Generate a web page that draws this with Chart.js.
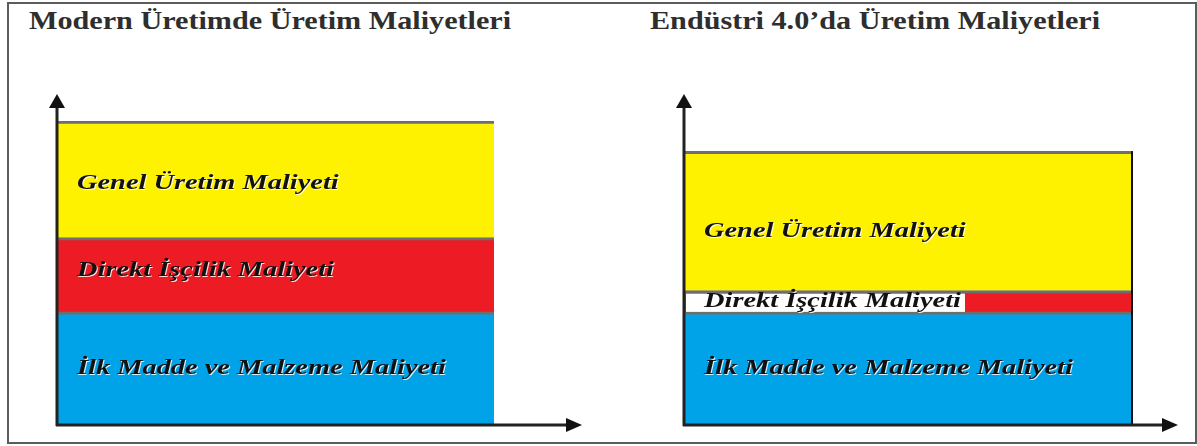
<!DOCTYPE html>
<html>
<head>
<meta charset="utf-8">
<script src="https://cdn.jsdelivr.net/npm/chart.js@4.4.1/dist/chart.umd.min.js"></script>
<style>
body { margin: 0; background: #fff; }
#wrap { position: relative; width: 1197px; height: 446px; overflow: hidden; }
#frame { position: absolute; left: 7px; top: 2px; width: 1186px; height: 438px; border: 2px solid #5c5c5c; }
.title { position: absolute; top: 6px; font: bold 26px "Liberation Serif", serif; color: #2e2e2e; white-space: nowrap; transform-origin: 0 0; transform: scaleX(1.16); }
canvas { position: absolute; top: 0; }
</style>
</head>
<body>
<div id="wrap">
  <div id="frame"></div>
  <div class="title" id="t1"></div>
  <div class="title" id="t2"></div>
  <canvas id="c1" width="600" height="446" style="left:0"></canvas>
  <canvas id="c2" width="597" height="446" style="left:600px"></canvas>
</div>
<script>
// panel titles
const panelTitles = ['Modern Üretimde Üretim Maliyetleri', 'Endüstri 4.0’da Üretim Maliyetleri'];
// stacked segments, bottom to top
const segments = ['İlk Madde ve Malzeme Maliyeti', 'Direkt İşçilik Maliyeti', 'Genel Üretim Maliyeti'];
const modernCosts = [37, 24.5, 38.5];
const industry40Costs = [37, 7, 46];
const yMax = 100;

const segColors = ['#00a2e8', '#ed1c24', '#fff200'];

const costAxes = {
    id: 'costAxes',
    afterDatasetsDraw(chart, args, opts) {
        const ctx = chart.ctx;
        const area = chart.chartArea;
        ctx.save();

        // labels inside the segments
        chart.data.datasets.forEach((ds, i) => {
            const bar = chart.getDatasetMeta(i).data[0];
            const left = bar.x - bar.width / 2;
            const ty = (bar.y + bar.base) / 2 + (opts.labelShift[i] || 0);
            ctx.font = 'italic bold 22px "Liberation Serif", serif';
            const tw = ctx.measureText(ds.label).width * opts.stretch;
            if (opts.labelBg[i]) {
                ctx.fillStyle = opts.labelBg[i];
                ctx.fillRect(left + 1, bar.y + 3, tw + 22, bar.base - bar.y - 3);
            }
            ctx.save();
            ctx.translate(left + 19, ty);
            ctx.scale(opts.stretch, 1);
            ctx.textBaseline = 'middle';
            ctx.shadowColor = 'rgba(255,255,255,0.85)';
            ctx.shadowOffsetX = 1;
            ctx.shadowOffsetY = 1;
            ctx.fillStyle = '#111';
            ctx.fillText(ds.label, 0, 0);
            ctx.restore();
        });

        // right edge of the bar
        if (opts.rightEdge) {
            const top = chart.getDatasetMeta(chart.data.datasets.length - 1).data[0];
            ctx.strokeStyle = '#111';
            ctx.lineWidth = 2;
            ctx.beginPath();
            ctx.moveTo(area.right - 1, top.y);
            ctx.lineTo(area.right - 1, area.bottom);
            ctx.stroke();
        }

        // axes with arrows
        const ax = area.left - 1, ay = area.bottom + 1;
        ctx.strokeStyle = '#222';
        ctx.fillStyle = '#111';
        ctx.lineWidth = 3;
        ctx.beginPath();
        ctx.moveTo(ax, ay + 1);
        ctx.lineTo(ax, opts.arrowTop + 10);
        ctx.moveTo(ax - 1, ay);
        ctx.lineTo(opts.arrowRight - 10, ay);
        ctx.stroke();
        ctx.beginPath();
        ctx.moveTo(ax, opts.arrowTop);
        ctx.lineTo(ax - 8, opts.arrowTop + 14);
        ctx.lineTo(ax + 8, opts.arrowTop + 14);
        ctx.closePath();
        ctx.fill();
        ctx.beginPath();
        ctx.moveTo(opts.arrowRight, ay);
        ctx.lineTo(opts.arrowRight - 16, ay - 7);
        ctx.lineTo(opts.arrowRight - 16, ay + 7);
        ctx.closePath();
        ctx.fill();
        ctx.restore();
    }
};

function makeCostChart(id, values, extra) {
    const ctx = document.getElementById(id).getContext('2d');
    return new Chart(ctx, {
        type: 'bar',
        data: {
            labels: [''],
            datasets: segments.map((name, i) => ({
                label: name,
                data: [values[i]],
                backgroundColor: segColors[i],
                borderColor: '#6e6e6e',
                borderWidth: { top: 3, bottom: 0, left: 0, right: 0 },
                borderSkipped: false,
                barPercentage: 1,
                categoryPercentage: 1
            }))
        },
        options: {
            responsive: false,
            animation: false,
            events: [],
            layout: { padding: extra.padding },
            scales: {
                x: { stacked: true, display: false },
                y: { stacked: true, display: false, min: 0, max: yMax }
            },
            plugins: {
                legend: { display: false },
                tooltip: { enabled: false },
                costAxes: extra.axes
            }
        },
        plugins: [costAxes]
    });
}

document.getElementById('t1').textContent = panelTitles[0];
document.getElementById('t2').textContent = panelTitles[1];
document.getElementById('t1').style.left = '29px';
document.getElementById('t2').style.left = '650px';

makeCostChart('c1', modernCosts, {
    padding: { left: 58, right: 106, top: 121, bottom: 22 },
    axes: { arrowTop: 94, arrowRight: 582, stretch: 1.29, labelBg: [], labelShift: [0, -4, 4], rightEdge: false }
});
makeCostChart('c2', industry40Costs, {
    padding: { left: 85, right: 64, top: 121, bottom: 22 },
    axes: { arrowTop: 94, arrowRight: 578, stretch: 1.29, labelBg: [null, '#fff', null], labelShift: [0, 0, 10], rightEdge: true }
});
</script>
</body>
</html>
